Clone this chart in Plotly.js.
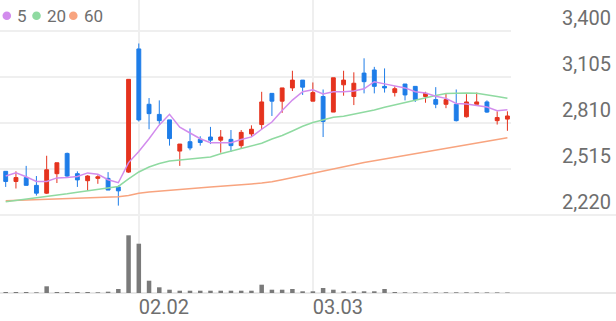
<!DOCTYPE html>
<html>
<head>
<meta charset="utf-8">
<script src="https://cdn.plot.ly/plotly-3.0.1.min.js"></script>
<style>html,body{margin:0;padding:0;background:#fff;}#chart{width:616px;height:321px;}</style>
</head>
<body>
<div id="chart"></div>
<script>
// ---- data ----
const openP  = [2500,2435,2460,2410,2360,2485,2615,2485,2440,2455,2455,2400,2495,3285,2930,2865,2830,2630,2690,2705,2720,2700,2705,2665,2740,2800,3000,2950,3035,3085,2950,2980,2880,3055,2980,3130,3150,3045,3005,3060,3045,2980,2960,2930,2930,2850,2930,2945,2825,2835];
const highP  = [2500,2500,2535,2470,2600,2555,2620,2500,2475,2475,2495,2410,3090,3320,2970,2955,2830,2675,2775,2725,2785,2765,2765,2765,2795,3010,3000,3035,3145,3085,3070,3025,3100,3145,3135,3225,3170,3160,3045,3060,3045,3010,3040,3000,3025,2995,3005,2955,2885,2885];
const lowP   = [2400,2390,2410,2345,2355,2425,2465,2400,2375,2420,2380,2280,2490,2820,2770,2805,2665,2535,2635,2665,2675,2620,2625,2645,2720,2770,2855,2875,3015,2990,2950,2720,2880,2985,2925,3000,3000,3005,2980,2955,2945,2940,2905,2905,2820,2845,2930,2875,2800,2760];
const closeP = [2435,2460,2410,2360,2510,2555,2470,2445,2470,2465,2380,2375,3090,2830,2870,2825,2710,2675,2650,2685,2700,2720,2665,2750,2770,2945,2950,3035,3085,3040,3005,2820,3100,3085,3065,3075,3045,3035,3030,2990,2960,3000,2930,2960,2825,2945,2945,2880,2845,2855];
const ma5  = [2470,2490,2465,2435,2435,2458,2461,2467,2490,2481,2446,2427,2556,2627,2709,2798,2866,2783,2746,2709,2684,2686,2684,2704,2721,2770,2816,2890,2957,3011,3023,2996,3010,3010,3015,3029,3075,3061,3050,3035,3011,3002,2982,2968,2935,2932,2922,2912,2889,2895];
const ma20 = [2305,2313,2321,2329,2337,2347,2356,2366,2375,2385,2393,2403,2451,2496,2528,2550,2566,2573,2577,2584,2592,2613,2630,2648,2661,2680,2707,2730,2759,2789,2813,2832,2847,2853,2866,2879,2893,2911,2927,2943,2959,2972,2986,2999,3002,3002,3000,2991,2980,2968];
const ma60 = [2312,2314,2316,2319,2321,2323,2326,2328,2330,2333,2335,2337,2345,2360,2368,2374,2379,2384,2389,2394,2400,2404,2408,2412,2419,2425,2433,2446,2460,2475,2491,2505,2518,2531,2543,2557,2568,2579,2591,2602,2614,2625,2637,2648,2659,2671,2682,2693,2705,2716];
const volume = [100,100,100,70,670,100,100,100,100,70,130,400,5770,4930,1230,570,330,230,230,230,230,230,230,230,230,830,330,330,400,170,170,500,330,170,170,170,170,400,100,70,70,70,70,70,70,70,70,60,60,50];
const dateTickIndex = [13, 30];
const dateTickLabels = ['02.02', '03.03'];
const priceTicks = [2220, 2515, 2810, 3105, 3400];
const maNames = ['5', '20', '60'];
const maColors = ['#d28ced', '#8fdaa1', '#f8a47f'];

// ---- chart ----
const day = closeP.map((_, i) => i);
const W = 616, H = 321;
const M = {l: 0, r: 105, t: 0, b: 28};
const plotW = W - M.l - M.r, plotH = H - M.t - M.b;
const priceBottomPx = 215;
const volFrac = (plotH - priceBottomPx) / plotH;
const gridC = '#efefef';
const txtC = '#6e6e6e';

const traces = [
  {type: 'scatter', mode: 'lines', x: day, y: ma60, line: {color: maColors[2], width: 1.5}, xaxis: 'x', yaxis: 'y', hoverinfo: 'skip'},
  {type: 'scatter', mode: 'lines', x: day, y: ma20, line: {color: maColors[1], width: 1.5}, xaxis: 'x', yaxis: 'y', hoverinfo: 'skip'},
  {type: 'scatter', mode: 'lines', x: day, y: ma5, line: {color: maColors[0], width: 1.5}, xaxis: 'x', yaxis: 'y', hoverinfo: 'skip'},
  {type: 'candlestick', x: day, open: openP, high: highP, low: lowP, close: closeP, xaxis: 'x', yaxis: 'y',
   whiskerwidth: 0,
   increasing: {line: {color: '#e5331e', width: 1}, fillcolor: '#e5331e'},
   decreasing: {line: {color: '#1e7de8', width: 1}, fillcolor: '#1e7de8'}},
  {type: 'bar', x: day, y: volume, marker: {color: '#7a7a7a'}, xaxis: 'x', yaxis: 'y2', hoverinfo: 'skip'}
];

const shapes = [
  {type: 'line', xref: 'paper', yref: 'paper', x0: 0, x1: W / plotW, y0: volFrac, y1: volFrac, line: {color: gridC, width: 2}, layer: 'below'},
  {type: 'line', xref: 'paper', yref: 'paper', x0: 0, x1: W / plotW, y0: 0, y1: 0, line: {color: '#e8e8e8', width: 2}, layer: 'below'}
];
const legendX = [6.8, 36.5, 73.3];
const legendTextX = [15.5, 45.5, 82.5];
const legendY = 1 - 15.8 / plotH;
const annotations = [];
maNames.forEach((n, k) => {
  shapes.push({type: 'circle', xref: 'paper', yref: 'paper', xsizemode: 'pixel', ysizemode: 'pixel',
    xanchor: legendX[k] / plotW, yanchor: legendY, x0: -4.3, x1: 4.3, y0: -4.3, y1: 4.3,
    fillcolor: maColors[k], line: {width: 0}});
  annotations.push({xref: 'paper', yref: 'paper', x: legendTextX[k] / plotW, y: legendY, xanchor: 'left', yanchor: 'middle',
    text: n, showarrow: false, font: {family: 'Roboto', size: 17, color: txtC}, borderpad: 0});
});

const pxPerPrice = (priceTicks[4] - priceTicks[0]) / (215 - 31);
const layout = {
  width: W, height: H, margin: M, paper_bgcolor: '#fff', plot_bgcolor: '#fff',
  showlegend: false, boxgap: 0.46, bargap: 0.56,
  font: {family: 'Roboto', color: txtC},
  xaxis: {anchor: 'y2', range: [-0.557, 49.35], rangeslider: {visible: false},
    tickvals: dateTickIndex, ticktext: dateTickLabels, ticklabelposition: 'outside right',
    showgrid: true, gridcolor: gridC, gridwidth: 1.5, zeroline: false, showline: false, ticks: '',
    tickfont: {family: 'Roboto', size: 20, color: txtC}},
  yaxis: {domain: [volFrac, 1], side: 'right', range: [priceTicks[0], priceTicks[4] + 31 * pxPerPrice],
    tickvals: priceTicks, ticktext: priceTicks.map(v => v.toLocaleString('en-US')),
    showgrid: true, gridcolor: gridC, gridwidth: 1.5, zeroline: false, showline: false, ticks: '',
    ticklabelstandoff: 50, ticklabelshift: -13,
    tickfont: {family: 'Roboto', size: 20, color: txtC}},
  yaxis2: {domain: [0, volFrac], range: [0, 7800], showgrid: false, zeroline: false, showticklabels: false, ticks: ''},
  shapes: shapes,
  annotations: annotations
};
Plotly.newPlot('chart', traces, layout, {displayModeBar: false, staticPlot: true});
</script>
</body>
</html>
